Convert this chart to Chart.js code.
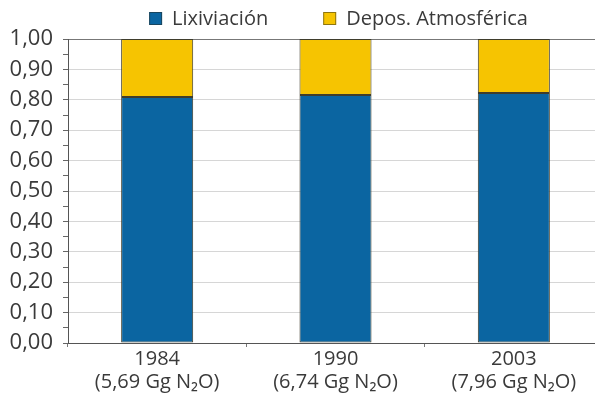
<!DOCTYPE html>
<html>
<head>
<meta charset="utf-8">
<script src="https://cdn.jsdelivr.net/npm/chart.js@4/dist/chart.umd.min.js"></script>
<style>
  html, body { margin: 0; padding: 0; background: #fff; overflow: hidden; }
  #wrap { width: 604px; height: 395px; position: relative; }
</style>
</head>
<body>
<div id="wrap"><canvas id="chart"></canvas></div>
<script>
// Share of N2O emissions by source, per year (fractions of the yearly total)
const years = ['1984', '1990', '2003'];
const totals = ['5,69', '6,74', '7,96'];           // Gg N2O per year
const seriesNames = ['Lixiviación', 'Depos. Atmosférica'];
const lixiviacion = [0.809, 0.816, 0.822];
const deposicion = [0.191, 0.184, 0.178];

const categories = years.map((y, i) => [y, '(' + totals[i] + ' Gg N₂O)']);

const BLUE = '#0b65a1';
const YELLOW = '#f6c401';
const EDGE = '#3f3d2c';
const INK = '#3a3a3a';

Chart.defaults.font.family = "'Open Sans', 'DejaVu Sans', sans-serif";
Chart.defaults.color = INK;

// Legend drawn as a single centered row above the plot
const topLegend = {
  id: 'topLegend',
  afterDraw(chart) {
    const ctx = chart.ctx;
    const sets = chart.data.datasets;
    const box = 13, textGap = 10, itemGap = 55, cy = 18.5, center = 338.5;
    ctx.save();
    ctx.font = "20px 'Open Sans', 'DejaVu Sans', sans-serif";
    ctx.textBaseline = 'middle';
    const widths = sets.map(d => box + textGap + ctx.measureText(d.label).width);
    const total = widths.reduce((a, b) => a + b, 0) + itemGap * (sets.length - 1);
    let x = center - total / 2;
    sets.forEach((d, i) => {
      ctx.fillStyle = d.backgroundColor;
      ctx.fillRect(x, cy - box / 2, box, box);
      ctx.lineWidth = 1;
      ctx.strokeStyle = 'rgba(40,40,30,0.5)';
      ctx.strokeRect(x + 0.5, cy - box / 2 + 0.5, box - 1, box - 1);
      ctx.fillStyle = INK;
      ctx.fillText(d.label, x + box + textGap, cy + 1);
      x += widths[i] + itemGap;
    });
    ctx.restore();
  }
};

new Chart(document.getElementById('chart'), {
  type: 'bar',
  data: {
    labels: categories,
    datasets: [
      {
        label: seriesNames[0],
        data: lixiviacion,
        backgroundColor: BLUE,
        borderColor: EDGE,
        borderWidth: 1,
        borderSkipped: false,
        categoryPercentage: 1,
        barPercentage: 0.404
      },
      {
        label: seriesNames[1],
        data: deposicion,
        backgroundColor: YELLOW,
        borderColor: EDGE,
        borderWidth: 1,
        borderSkipped: false,
        categoryPercentage: 1,
        barPercentage: 0.404
      }
    ]
  },
  options: {
    responsive: true,
    maintainAspectRatio: false,
    animation: false,
    layout: { padding: { top: 39, right: 1, bottom: 0, left: 0 } },
    plugins: {
      legend: { display: false },
      tooltip: { enabled: false }
    },
    scales: {
      x: {
        stacked: true,
        grid: {
          offset: true,
          drawOnChartArea: false,
          tickLength: 4,
          tickColor: '#777'
        },
        border: { color: '#555', width: 1 },
        ticks: {
          padding: 1,
          font: { size: 20, lineHeight: 1.15 },
          color: INK,
          maxRotation: 0
        },
        afterFit(scale) { scale.height = 52; }
      },
      y: {
        stacked: true,
        min: 0,
        max: 1,
        grid: {
          color: ctx => {
            const v = Math.round(ctx.tick.value * 100);
            if (v % 10 !== 0) return 'rgba(0,0,0,0)';
            return v === 100 ? '#777' : '#d6d6d6';
          },
          tickColor: '#666',
          tickLength: 5
        },
        border: { color: '#555', width: 1 },
        ticks: {
          stepSize: 0.05,
          autoSkip: false,
          padding: 10,
          font: { size: 22 },
          color: INK,
          callback: v => {
            const c = Math.round(v * 100);
            return c % 10 === 0 ? (c / 100).toFixed(2).replace('.', ',') : '';
          }
        },
        afterFit(scale) { scale.width = 68; }
      }
    }
  },
  plugins: [topLegend]
});
</script>
</body>
</html>
